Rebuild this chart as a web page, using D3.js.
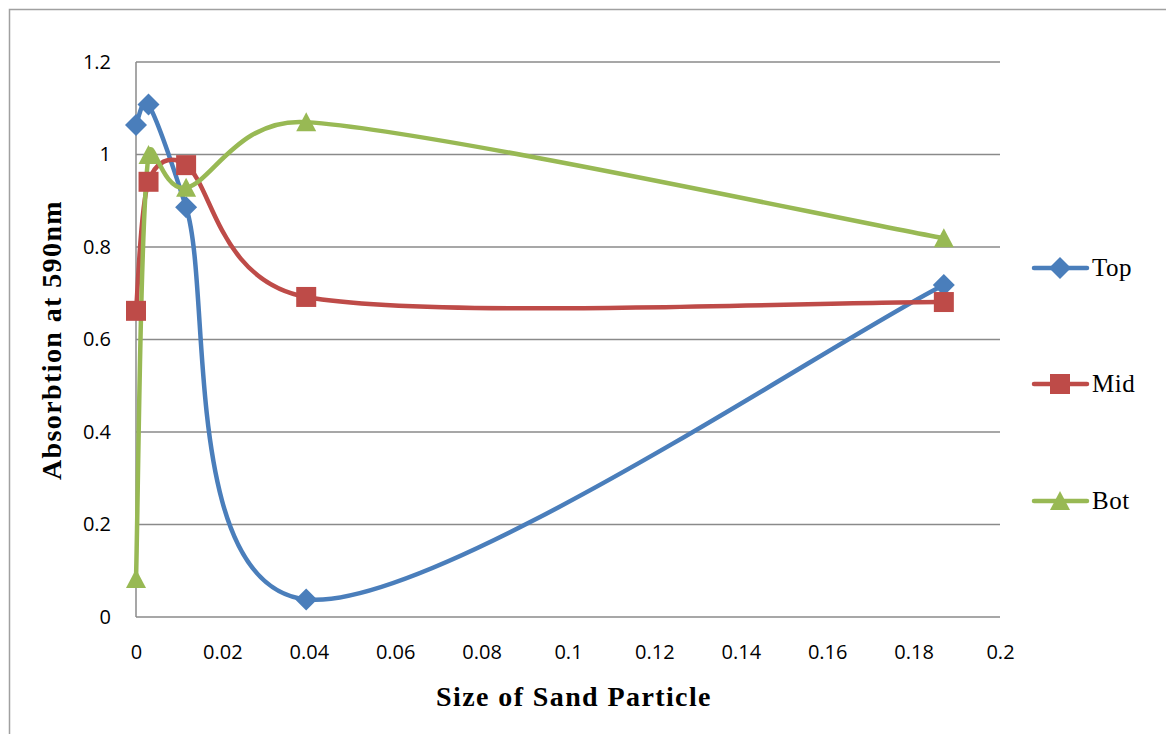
<!DOCTYPE html>
<html><head><meta charset="utf-8">
<script src="https://cdn.jsdelivr.net/npm/d3@7"></script>
<style>body{margin:0;background:#fff}svg{display:block}</style>
</head><body>
<script>
const sizes = [0, 0.0029, 0.0116, 0.0394, 0.187];
const topVals = [1.064, 1.108, 0.886, 0.038, 0.718];
const midVals = [0.662, 0.941, 0.977, 0.692, 0.681];
const botVals = [0.082, 0.999, 0.928, 1.070, 0.819];
const seriesNames = ["Top", "Mid", "Bot"];
const xTicks = [0,0.02,0.04,0.06,0.08,0.1,0.12,0.14,0.16,0.18,0.2];
const yTicks = [0,0.2,0.4,0.6,0.8,1,1.2];

const W = 1166, H = 734;
const svg = d3.select("body").append("svg").attr("width", W).attr("height", H);
svg.append("rect").attr("width", W).attr("height", H).attr("fill", "#fff");
svg.append("path").attr("d", `M9.5,${H} V9.5 H${W}`).attr("fill","none").attr("stroke","#a0a0a0").attr("stroke-width",1.5);

const x = d3.scaleLinear().domain([0,0.2]).range([136,1000]);
const y = d3.scaleLinear().domain([0,1.2]).range([617,62]);

svg.append("g").selectAll("line").data(yTicks).join("line")
  .attr("x1", x(0)).attr("x2", x(0.2)).attr("y1", d=>y(d)).attr("y2", d=>y(d))
  .attr("stroke", "#8a8a8a").attr("stroke-width", 1.5);
svg.append("line").attr("x1", x(0)).attr("x2", x(0)).attr("y1", y(0)).attr("y2", y(1.2))
  .attr("stroke", "#8a8a8a").attr("stroke-width", 1.5);

const tickFont = "'Open Sans', Lato, sans-serif";
const yAxis = d3.axisLeft(y).tickValues(yTicks).tickSize(0).tickPadding(25).tickFormat(d=>String(d));
const gy = svg.append("g").attr("transform", `translate(${x(0)},0)`).call(yAxis);
gy.select(".domain").remove();
gy.selectAll("text").attr("font-family", tickFont).attr("font-size", 20).attr("fill","#000");
const xAxis = d3.axisBottom(x).tickValues(xTicks).tickSize(0).tickPadding(28).tickFormat(d=>String(d));
const gx = svg.append("g").attr("transform", `translate(0,${y(0)})`).call(xAxis);
gx.select(".domain").remove();
gx.selectAll("text").attr("font-family", tickFont).attr("font-size", 20).attr("fill","#000");

svg.append("text").attr("x", 574).attr("y", 706).attr("text-anchor","middle")
  .attr("font-family","'Liberation Serif', serif").attr("font-weight","bold").attr("font-size",28)
  .attr("letter-spacing",1.4).text("Size of  Sand Particle");
svg.append("text").attr("transform","translate(61,340) rotate(-90)").attr("text-anchor","middle")
  .attr("font-family","'Liberation Serif', serif").attr("font-weight","bold").attr("font-size",28)
  .attr("letter-spacing",1.4).text("Absorbtion at 590nm");

const series = [
  {name:"Top", vals: topVals, color:"#4A7EBB", shape:"diamond"},
  {name:"Mid", vals: midVals, color:"#BE4B48", shape:"square"},
  {name:"Bot", vals: botVals, color:"#98B954", shape:"triangle"}
];
function markerPath(shape){
  if(shape==="diamond") return "M0,-11 L11,0 L0,11 L-11,0 Z";
  if(shape==="square") return "M-10,-10 H10 V10 H-10 Z";
  return "M0,-10 L10,9 L-10,9 Z";
}
// Excel-style smoothing: cardinal spline (1/6) with control arms capped at half the segment length
function smoothPath(pts){
  const n = pts.length;
  const P = i => pts[Math.max(0, Math.min(n-1, i))];
  const dist = (a,b) => Math.hypot(b[0]-a[0], b[1]-a[1]);
  let d = `M${pts[0][0]},${pts[0][1]}`;
  for(let i=0;i<n-1;i++){
    const p0=P(i-1), p1=P(i), p2=P(i+1), p3=P(i+2);
    const seg = dist(p1,p2);
    let f1 = 1/6, f2 = 1/6;
    const d02 = dist(p0,p2), d13 = dist(p1,p3);
    if(d02*f1 > seg/2) f1 = seg/2/d02;
    if(d13*f2 > seg/2) f2 = seg/2/d13;
    const c1 = [p1[0]+(p2[0]-p0[0])*f1, p1[1]+(p2[1]-p0[1])*f1];
    const c2 = [p2[0]-(p3[0]-p1[0])*f2, p2[1]-(p3[1]-p1[1])*f2];
    d += `C${c1[0]},${c1[1]} ${c2[0]},${c2[1]} ${p2[0]},${p2[1]}`;
  }
  return d;
}
series.forEach(s=>{
  const pts = sizes.map((v,i)=>[x(v), y(s.vals[i])]);
  svg.append("path").attr("d", smoothPath(pts)).attr("fill","none").attr("stroke", s.color)
    .attr("stroke-width", 4.5).attr("stroke-linecap","round");
});
series.forEach(s=>{
  const pts = sizes.map((v,i)=>[v, s.vals[i]]);
  svg.append("g").selectAll("path").data(pts).join("path")
    .attr("transform", d=>`translate(${x(d[0])},${y(d[1])})`)
    .attr("d", markerPath(s.shape)).attr("fill", s.color);
});

const legY = [268, 384, 501];
series.forEach((s,i)=>{
  const g = svg.append("g").attr("transform", `translate(0,${legY[i]})`);
  g.append("line").attr("x1",1034).attr("x2",1087).attr("y1",0).attr("y2",0)
    .attr("stroke", s.color).attr("stroke-width",4.5).attr("stroke-linecap","round");
  g.append("path").attr("transform","translate(1060,0)").attr("d", markerPath(s.shape)).attr("fill", s.color);
  g.append("text").attr("x",1092).attr("y",8).attr("font-family","'Liberation Serif', serif")
    .attr("font-size",25).attr("letter-spacing",0.5).attr("fill","#000").text(s.name);
});
</script>
</body></html>
